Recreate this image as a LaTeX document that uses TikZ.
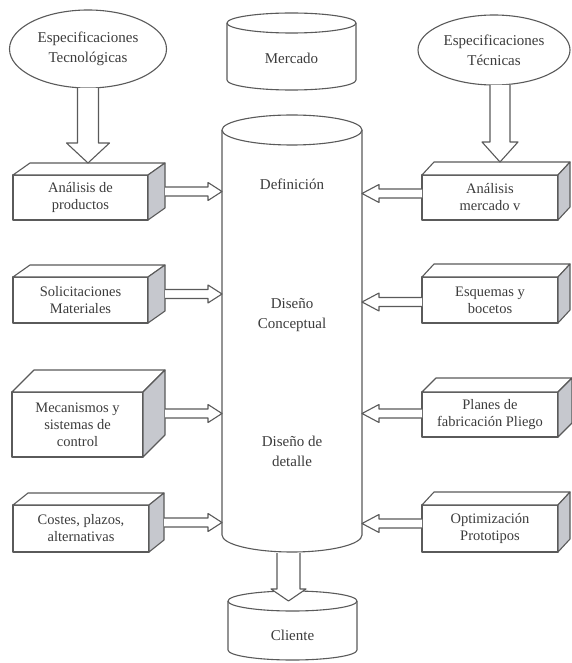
\documentclass[tikz,border=0pt]{standalone}
\usepackage{fontspec}
\setmainfont{Liberation Serif}
\usetikzlibrary{calc,shapes.geometric}
\definecolor{ln}{HTML}{5A5A5A}
\definecolor{tx}{HTML}{3C3C3C}
\definecolor{sideface}{HTML}{C6C8CE}
\tikzset{
  outline/.style={draw=ln, line width=1.1pt, line join=round},
  boxfront/.style={outline, fill=white, rectangle, outer sep=0pt, inner sep=0pt,
    align=center, text=tx, font=\fontsize{14.5}{17}\selectfont},
  ovalnode/.style={outline, fill=white, ellipse, outer sep=0pt, inner sep=0pt,
    align=center, text=tx, font=\fontsize{15}{20}\selectfont},
  cyllabel/.style={align=center, text=tx, font=\fontsize{15}{20}\selectfont, inner sep=0pt},
  anchorbox/.style={rectangle, inner sep=0pt, outer sep=0pt}
}
% 3D box: name, cx, cy, w, h, dx, dy, text
\newcommand{\threedbox}[8]{%
  \node[boxfront, minimum width=#4, minimum height=#5] (#1) at (#2,#3) {#8};
  \draw[outline, fill=white] (#1.north west) -- ++(#6,-#7) -- ++(#4,0) -- (#1.north east) -- cycle;
  \draw[outline, fill=sideface] (#1.north east) -- ++(#6,-#7) -- ++(0,#5) -- (#1.south east) -- cycle;
  \coordinate (#1s) at ($(#1.east)+(#6,{-#7/2})$);
  \coordinate (#1t) at ($(#1.north)+(0,-#7)$);
}
% horizontal block arrows: tail, tip
\newcommand{\blkright}[2]{%
  \draw[outline, fill=white] let \p1=(#1), \p2=(#2) in
    (\x1,\y1+4.5pt) -- (\x2-14pt,\y1+4.5pt) -- (\x2-14pt,\y1+9pt) -- (\x2,\y1)
    -- (\x2-14pt,\y1-9pt) -- (\x2-14pt,\y1-4.5pt) -- (\x1,\y1-4.5pt);}
\newcommand{\blkleft}[2]{%
  \draw[outline, fill=white] let \p1=(#1), \p2=(#2) in
    (\x1,\y1+4.5pt) -- (\x2+17pt,\y1+4.5pt) -- (\x2+17pt,\y1+9pt) -- (\x2,\y1)
    -- (\x2+17pt,\y1-9pt) -- (\x2+17pt,\y1-4.5pt) -- (\x1,\y1-4.5pt);}
% vertical block arrow: tail, tip, shaft half, head half, head length
\newcommand{\blkdown}[5]{%
  \draw[outline, fill=white] let \p1=(#1), \p2=(#2) in
    (\x1-#3pt,\y1) -- (\x1-#3pt,\y2+#5pt) -- (\x1-#4pt,\y2+#5pt) -- (\x1,\y2)
    -- (\x1+#4pt,\y2+#5pt) -- (\x1+#3pt,\y2+#5pt) -- (\x1+#3pt,\y1);}
\begin{document}
\begin{tikzpicture}[x=1pt,y=-1pt]
\useasboundingbox[fill=white] (0,0) rectangle (572,663);

% Mercado cylinder
\fill[white] (227,23) rectangle (356,80);
\draw[outline] (227,23) -- (227,80) arc[start angle=180, end angle=360, x radius=64.5pt, y radius=10pt] -- (356,23);
\draw[outline, fill=white] (291.5,23) ellipse[x radius=64.5pt, y radius=10pt];
\node[anchorbox, minimum width=129, minimum height=57] (merc) at (291.5,51.5) {};
\node[cyllabel] (mercl) at (291.5,58) {Mercado};

% main cylinder
\fill[white] (222,130) rectangle (362,535);
\draw[outline] (222,130) -- (222,535) arc[start angle=180, end angle=360, x radius=70pt, y radius=17pt] -- (362,130);
\draw[outline, fill=white] (292,130) ellipse[x radius=70pt, y radius=15pt];
\node[anchorbox, minimum width=140, minimum height=405] (cyl) at (292,332.5) {};
\node[cyllabel] (def) at (292,184) {Definición};
\node[cyllabel] (conc) at (292,315) {Diseño\\Conceptual};
\node[cyllabel] (det) at (292,451) {Diseño de\\detalle};

% Cliente cylinder
\fill[white] (228,601) rectangle (357,650);
\draw[outline] (228,601) -- (228,650) arc[start angle=180, end angle=360, x radius=64.5pt, y radius=10pt] -- (357,601);
\draw[outline, fill=white] (292.5,601) ellipse[x radius=64.5pt, y radius=10pt];
\node[anchorbox, minimum width=129, minimum height=49] (cli) at (292.5,625.5) {};
\node[cyllabel] (clil) at (292.5,635) {Cliente};

% ellipses
\node[ovalnode, minimum width=157, minimum height=78] (ell1) at (88,49) {Especificaciones\\Tecnológicas};
\node[ovalnode, minimum width=152, minimum height=70] (ell2) at (494,50) {Especificaciones\\Técnicas};

% left boxes
\threedbox{L1}{80.5}{197.5}{135}{45}{17}{12}{Análisis de\\productos}
\threedbox{L2}{80.5}{300}{135}{46}{17}{12}{Solicitaciones\\Materiales}
\threedbox{L3}{77.5}{424.5}{131}{65}{22}{22}{Mecanismos y\\sistemas de\\control}
\threedbox{L4}{81}{528.5}{136}{47}{15}{12}{Costes, plazos,\\alternativas}

% right boxes
\threedbox{R1}{490}{197.5}{136}{45}{12}{13}{Análisis\\mercado v}
\threedbox{R2}{490}{300}{136}{46}{12}{13}{Esquemas y\\bocetos}
\threedbox{R3}{490}{414.5}{136}{45}{14}{14}{Planes de\\fabricación Pliego}
\threedbox{R4}{490}{528.5}{136}{47}{12}{13}{Optimización\\Prototipos}

% vertical arrows
\blkdown{ell1.south}{ell1.south |- L1t}{10.5}{21.5}{20}
\coordinate (e2a) at ($(ell2.south)+(6,0)$);
\blkdown{e2a}{e2a |- R1t}{10}{18}{20}
\coordinate (cylb) at ($(cyl.south)+(-3.5,18)$);
\blkdown{cylb}{cylb |- cli.north}{11.5}{17.5}{12}

% horizontal arrows
\blkright{L1s}{cyl.west |- L1s}
\blkright{L2s}{cyl.west |- L2s}
\blkright{L3s}{cyl.west |- L3s}
\blkright{L4s}{cyl.west |- L4s}
\coordinate (R1a) at ($(R1.west)+(0,-4)$);
\coordinate (R2a) at ($(R2.west)+(0,2)$);
\coordinate (R3a) at ($(R3.west)+(0,-1)$);
\coordinate (R4a) at ($(R4.west)+(0,-5)$);
\blkleft{R1a}{cyl.east |- R1a}
\blkleft{R2a}{cyl.east |- R2a}
\blkleft{R3a}{cyl.east |- R3a}
\blkleft{R4a}{cyl.east |- R4a}
\end{tikzpicture}
\end{document}
